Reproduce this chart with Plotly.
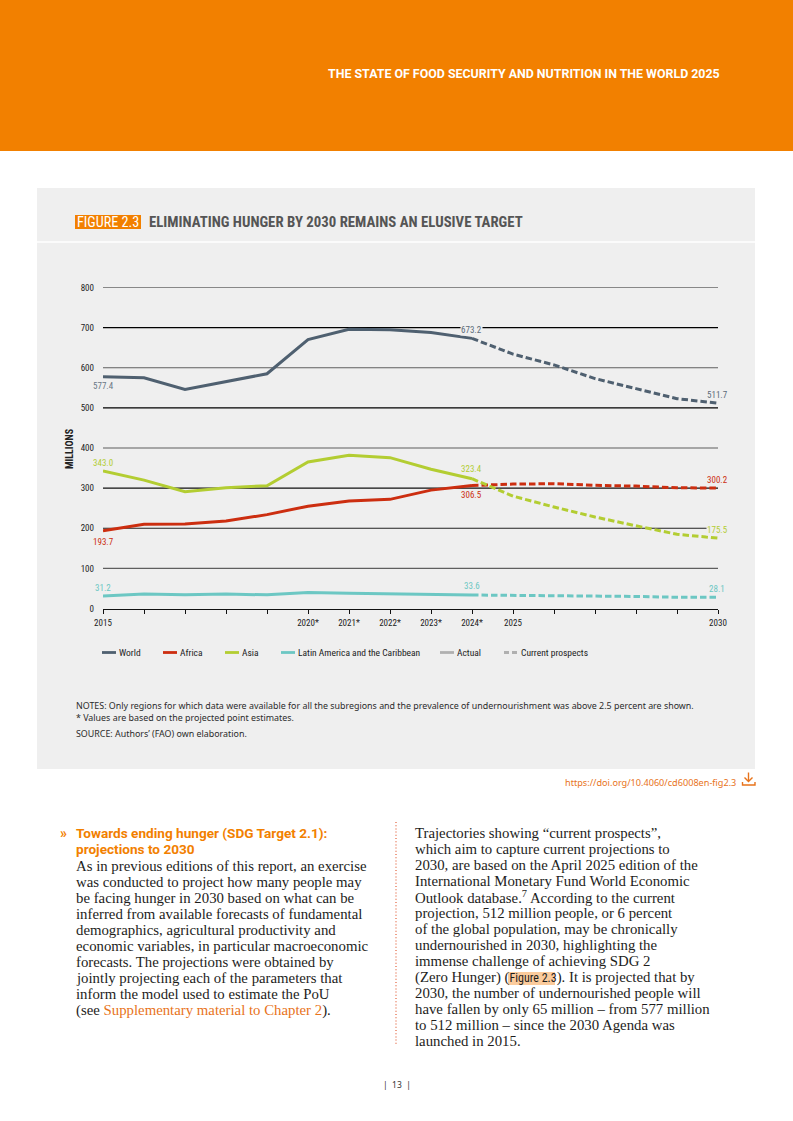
import plotly.graph_objects as go

W, H = 793, 1121

# ---------- data ----------
YEARS_ACTUAL = [2015, 2016, 2017, 2018, 2019, 2020, 2021, 2022, 2023, 2024]
YEARS_PROJ = [2024, 2025, 2026, 2027, 2028, 2029, 2030]
WORLD_ACTUAL = [577.4, 575, 546, 565, 585, 670, 696, 694.5, 688, 673.2]
WORLD_PROJ = [673.2, 634, 607, 573, 548, 523, 511.7]
AFRICA_ACTUAL = [193.7, 210, 210.5, 218, 234, 255, 268, 272, 295, 306.5]
AFRICA_PROJ = [306.5, 310, 311, 307, 305, 301, 300.2]
ASIA_ACTUAL = [343.0, 320, 291, 301, 306, 365, 382, 376, 347, 323.4]
ASIA_PROJ = [323.4, 280, 253, 228, 206, 185, 175.5]
LAC_ACTUAL = [31.2, 36, 34, 36, 34, 40, 38, 36, 34, 33.6]
LAC_PROJ = [33.6, 33, 32, 30, 30, 28, 28.1]
X_TICKS = [2015, 2020, 2021, 2022, 2023, 2024, 2025, 2030]
X_LABELS = ["2015", "2020*", "2021*", "2022*", "2023*", "2024*", "2025", "2030"]
X_MINOR_TICKS = [2016, 2017, 2018, 2019, 2026, 2027, 2028, 2029]
Y_TICKS = [0, 100, 200, 300, 400, 500, 600, 700, 800]

NARROW = "Roboto Condensed, Open Sans Condensed, Noto Sans Condensed, DejaVu Sans Condensed, Roboto"

LEFT_BODY = [
    "As in previous editions of this report, an exercise",
    "was conducted to project how many people may",
    "be facing hunger in 2030 based on what can be",
    "inferred from available forecasts of fundamental",
    "demographics, agricultural productivity and",
    "economic variables, in particular macroeconomic",
    "forecasts. The projections were obtained by",
    "jointly projecting each of the parameters that",
    "inform the model used to estimate the PoU",
    "(see <span style='color:#e8731a'>Supplementary material to Chapter 2</span>).",
]
RIGHT_BODY = [
    "Trajectories showing \u201ccurrent prospects\u201d,",
    "which aim to capture current projections to",
    "2030, are based on the April 2025 edition of the",
    "International Monetary Fund World Economic",
    "Outlook database.<sup>7</sup> According to the current",
    "projection, 512 million people, or 6 percent",
    "of the global population, may be chronically",
    "undernourished in 2030, highlighting the",
    "immense challenge of achieving SDG 2",
    "(Zero Hunger) (<span style='font-family:Roboto Condensed;font-size:12px'>Figure 2.3</span>). It is projected that by",
    "2030, the number of undernourished people will",
    "have fallen by only 65 million \u2013 from 577 million",
    "to 512 million \u2013 since the 2030 Agenda was",
    "launched in 2015.",
]

# ---------- styles ----------
SANS = "Noto Sans"
SERIF = "Liberation Serif"
C_WORLD, C_AFRICA, C_ASIA, C_LAC = "#4f6070", "#cc2e10", "#b3cd32", "#6cc7c3"
ORANGE = "#f28000"
PANEL = "#efefef"
PX_L, PX_R, PX_T, PX_B = 103, 718, 287.5, 608.5


def fx(p):
    return p / W


def fy(p):
    return 1 - p / H


fig = go.Figure()
for name, color, xa, ya, xp, yp in [
    ("World", C_WORLD, YEARS_ACTUAL, WORLD_ACTUAL, YEARS_PROJ, WORLD_PROJ),
    ("Africa", C_AFRICA, YEARS_ACTUAL, AFRICA_ACTUAL, YEARS_PROJ, AFRICA_PROJ),
    ("Asia", C_ASIA, YEARS_ACTUAL, ASIA_ACTUAL, YEARS_PROJ, ASIA_PROJ),
    ("Latin America and the Caribbean", C_LAC, YEARS_ACTUAL, LAC_ACTUAL, YEARS_PROJ, LAC_PROJ),
]:
    fig.add_trace(go.Scatter(x=xa, y=ya, mode="lines", name=name, showlegend=False, cliponaxis=False,
                             line=dict(color=color, width=3, shape="linear")))
    fig.add_trace(go.Scatter(x=xp, y=yp, mode="lines", name=name + " (current prospects)", showlegend=False,
                             cliponaxis=False, line=dict(color=color, width=3, dash="6.5px,3px")))

shapes = []
annots = []


def rect(x0, y0, x1, y1, color):
    shapes.append(dict(type="rect", xref="paper", yref="paper", x0=fx(x0), x1=fx(x1), y0=fy(y0), y1=fy(y1),
                       fillcolor=color, line=dict(width=0), layer="below"))


def hline(x0, x1, y, color, width=1.0, dash=None):
    shapes.append(dict(type="line", xref="paper", yref="paper", x0=fx(x0), x1=fx(x1), y0=fy(y), y1=fy(y),
                       line=dict(color=color, width=width, dash=dash), layer="below"))


def text(x, y, s, size, color, font=SANS, anchor="left", bg=None, angle=None):
    a = dict(xref="paper", yref="paper", x=fx(x), y=fy(y), text=s, showarrow=False, xanchor=anchor,
             yanchor="middle", align=anchor if anchor != "center" else "center",
             font=dict(size=size, color=color, family=font), borderpad=0)
    if bg:
        a["bgcolor"] = bg
    if angle is not None:
        a["textangle"] = angle
    annots.append(a)


# page blocks
rect(0, 0, W, 151, ORANGE)
rect(37, 188, 755, 769, PANEL)
hline(37, 755, 242, "#ffffff", 1.5)

# header
text(721, 74, "<b>THE STATE OF FOOD SECURITY AND NUTRITION IN THE WORLD 2025</b>", 12.4, "#ffffff", "Roboto", "right")

# figure title
rect(75, 215, 141, 229, ORANGE)
text(108, 222, "FIGURE 2.3", 14.2, "#ffffff", NARROW, "center")
text(147.5, 222.5, "<b>ELIMINATING HUNGER BY 2030 REMAINS AN ELUSIVE TARGET</b>", 14.8, "#555555", NARROW)

# grid lines (use data coordinates)
GRID_COLORS = {100: "#5f5f5f", 200: "#222222", 300: "#111111", 400: "#5f5f5f", 500: "#000000",
               600: "#5f5f5f", 700: "#000000", 800: "#222222"}
for v in Y_TICKS[1:]:
    shapes.append(dict(type="line", xref="paper", yref="y", x0=fx(PX_L), x1=fx(PX_R), y0=v, y1=v,
                       line=dict(color=GRID_COLORS[v], width=1.1), layer="below"))

# axis title
text(69, 449, "<b>MILLIONS</b>", 10, "#222222", NARROW, "center", angle=-90)

# value labels
for x, y, s, c, bg in [
    (103, 386.5, "577.4", "#6a7885", None),
    (103, 463, "343.0", C_ASIA, None),
    (103, 541.5, "193.7", C_AFRICA, None),
    (102.5, 588, "31.2", C_LAC, None),
    (471.5, 329.5, "673.2", "#5c6b79", PANEL),
    (471.5, 469.5, "323.4", C_ASIA, None),
    (471.5, 494.5, "306.5", C_AFRICA, None),
    (471.5, 585.5, "33.6", C_LAC, None),
    (717, 394.5, "511.7", "#5c6b79", None),
    (717, 479.5, "300.2", C_AFRICA, None),
    (717, 529.5, "175.5", C_ASIA, PANEL),
    (717, 588.5, "28.1", C_LAC, None),
]:
    text(x, y, s, 9, c, NARROW, "center", bg=bg)

# legend
for x0, label, c, dash in [
    (102, "World", C_WORLD, None),
    (163, "Africa", C_AFRICA, None),
    (225, "Asia", C_ASIA, None),
    (281, "Latin America and the Caribbean", C_LAC, None),
    (440, "Actual", "#b0b0b0", None),
    (504, "Current prospects", "#b0b0b0", "5px,3px"),
]:
    hline(x0, x0 + 14, 652.5, c, 2.8, dash)
    text(x0 + 16, 652.5, label, 9.5, "#222222", NARROW)

# notes
text(75, 705.5, "NOTES: Only regions for which data were available for all the subregions and the prevalence of undernourishment was above 2.5 percent are shown.",
     8.9, "#2b2b2b")
text(75, 717.5, "* Values are based on the projected point estimates.", 8.9, "#2b2b2b")
text(75, 733.5, "SOURCE: Authors\u2019 (FAO) own elaboration.", 8.9, "#2b2b2b")

# doi link + download icon
text(736.5, 782.5, "https://doi.org/10.4060/cd6008en-fig2.3", 9.15, "#e8731a", SANS, "right")
for pts in [[(748.5, 772.5), (748.5, 781)], [(744.5, 777.5), (748.5, 781.5), (752.5, 777.5)],
            [(742.5, 782), (742.5, 785), (755, 785), (755, 782)]]:
    path = "M" + " L".join(f"{fx(a):.5f},{fy(b):.5f}" for a, b in pts)
    shapes.append(dict(type="path", xref="paper", yref="paper", path=path,
                       line=dict(color="#e8731a", width=1.4), layer="above"))

# left column
text(59, 832.5, "<b>\u00bb</b>", 14, ORANGE, "Roboto")
text(74.5, 833, "<b>Towards ending hunger (SDG Target 2.1):</b>", 13.6, ORANGE, "Roboto")
text(74.5, 849, "<b>projections to 2030</b>", 13.6, ORANGE, "Roboto")
for i, line in enumerate(LEFT_BODY):
    text(74.5, 866 + 16 * i, line, 14.8, "#1d1d1b", SERIF)

# divider
shapes.append(dict(type="line", xref="paper", yref="paper", x0=fx(396), x1=fx(396), y0=fy(822), y1=fy(1045),
                   line=dict(color="#e2603a", width=1.2, dash="1px,2.2px"), layer="below"))

# right column
rect(508, 972, 555, 985, "#fbcb9c")
for i, line in enumerate(RIGHT_BODY):
    text(414, 833 + 16 * i, line, 14.8, "#1d1d1b", SERIF)

# page number
text(397, 1084, "|  13  |", 8.5, "#333333", SANS, "center")

fig.update_layout(
    width=W, height=H, autosize=False, margin=dict(l=0, r=0, t=0, b=0, pad=0, autoexpand=False),
    paper_bgcolor="#ffffff", plot_bgcolor="rgba(0,0,0,0)", showlegend=False,
    shapes=shapes, annotations=annots,
    xaxis=dict(domain=[fx(PX_L), fx(PX_R)], range=[2015, 2030], tickmode="array", tickvals=X_TICKS,
               ticktext=X_LABELS, ticks="outside", ticklen=4, tickwidth=1, tickcolor="#111111", showgrid=False,
               minor=dict(tickmode="array", tickvals=X_MINOR_TICKS, ticks="outside", ticklen=4, tickwidth=1,
                          tickcolor="#111111", showgrid=False),
               zeroline=False, showline=True, linecolor="#111111", linewidth=1.2, tickangle=0,
               tickfont=dict(family=NARROW, size=9, color="#222222"), ticklabelstandoff=2),
    yaxis=dict(domain=[fy(PX_B), fy(PX_T)], range=[0, 800], tickmode="array", tickvals=Y_TICKS,
               showgrid=False, zeroline=False, showline=False, ticks="",
               tickfont=dict(family=NARROW, size=9, color="#222222"), ticklabelstandoff=8),
)

fig.write_html("out.html", config={"displayModeBar": False},
               post_script="document.body.style.margin='0';document.documentElement.style.overflow='hidden';")
